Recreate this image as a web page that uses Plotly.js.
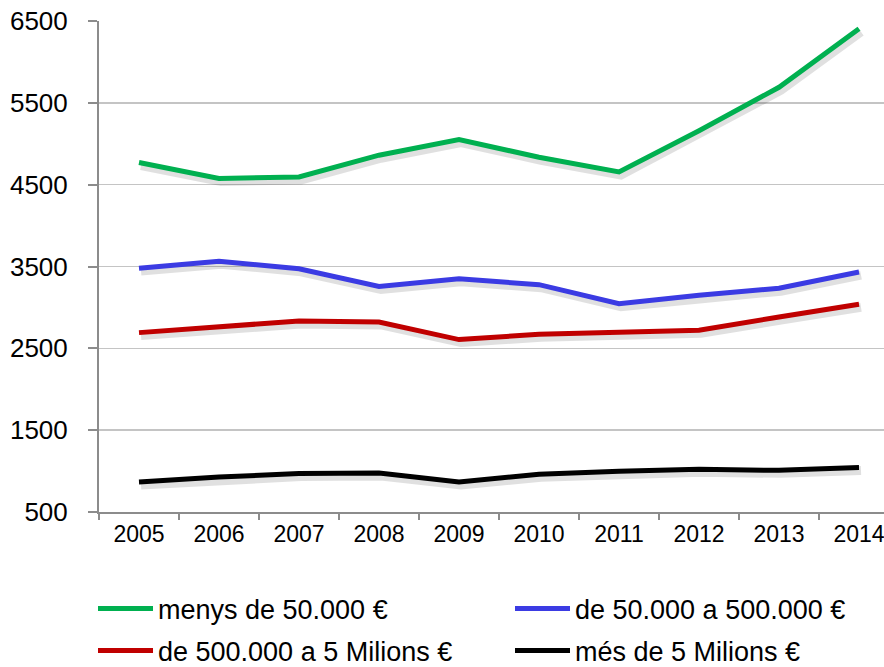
<!DOCTYPE html>
<html>
<head>
<meta charset="utf-8">
<script src="https://cdn.plot.ly/plotly-3.0.1.min.js"></script>
<style>html,body{margin:0;padding:0;background:#fff}#chart{width:884px;height:667px}</style>
</head>
<body>
<div id="chart"></div>
<script>
const years = ['2005','2006','2007','2008','2009','2010','2011','2012','2013','2014'];
const seriesNames = ['menys de 50.000 €', 'de 50.000 a 500.000 €', 'de 500.000 a 5 Milions €', 'més de 5 Milions €'];
const menys50k = [4770, 4575, 4595, 4860, 5050, 4835, 4655, 5160, 5690, 6405];
const de50kA500k = [3480, 3565, 3472, 3255, 3350, 3278, 3045, 3150, 3235, 3432];
const de500kA5M = [2692, 2770, 2834, 2822, 2607, 2672, 2700, 2720, 2883, 3038];
const mes5M = [867, 928, 969, 977, 867, 961, 997, 1021, 1009, 1043];
const yTicks = [500, 1500, 2500, 3500, 4500, 5500, 6500];

const seriesValues = [menys50k, de50kA500k, de500kA5M, mes5M];
const colors = ['#00B050', '#3B3BE3', '#C00000', '#000000'];
const legendIds = ['legend', 'legend2', 'legend3', 'legend4'];

const traces = [];
// soft drop shadows (same data, drawn on a slightly offset hidden axis pair)
seriesValues.forEach((vals) => {
  traces.push({
    x: years, y: vals, xaxis: 'x', yaxis: 'y', type: 'scatter', mode: 'lines',
    line: {color: 'rgba(0,0,0,0.12)', width: 9}, showlegend: false, hoverinfo: 'skip'
  });
});
seriesValues.forEach((vals, i) => {
  traces.push({
    x: years, y: vals, xaxis: 'x2', yaxis: 'y2', type: 'scatter', mode: 'lines',
    name: seriesNames[i], legend: legendIds[i],
    line: {color: colors[i], width: 5}
  });
});

const pxPerCat = 80, pxPerUnit = 491 / 6000;
const dx = 2 / pxPerCat, dy = 3 / pxPerUnit;
const xr = [-0.5, 9.3125];
const yr = [500, 6500];
const font = 'Liberation Sans, Arial, sans-serif';

function legendAt(px, py) {
  return {
    orientation: 'h', xref: 'container', yref: 'container',
    x: px / 884, xanchor: 'left', y: 1 - py / 667, yanchor: 'middle',
    itemwidth: 55,
    font: {size: 27, family: font, color: '#000'}, bgcolor: 'rgba(0,0,0,0)',
    borderwidth: 0
  };
}

const layout = {
  width: 884, height: 667,
  margin: {l: 99, r: 0, t: 21, b: 155},
  paper_bgcolor: '#ffffff', plot_bgcolor: '#ffffff',
  font: {family: font, color: '#000'},
  xaxis: {type: 'category', range: [xr[0] - dx, xr[1] - dx], visible: false, fixedrange: true},
  yaxis: {range: [yr[0] + dy, yr[1] + dy], visible: false, fixedrange: true},
  xaxis2: {
    type: 'category', overlaying: 'x', range: xr, anchor: 'y2',
    showgrid: false, zeroline: false,
    showline: true, linecolor: '#8C8C8C', linewidth: 2,
    ticks: 'outside', tickson: 'boundaries', ticklen: 6, tickcolor: '#8C8C8C', tickwidth: 2,
    tickfont: {size: 23, family: font, color: '#000'}
  },
  yaxis2: {
    overlaying: 'y', range: yr, anchor: 'x2', side: 'left',
    tickvals: yTicks, ticktext: yTicks.map(String),
    showgrid: true, gridcolor: '#C4C4C4', gridwidth: 1.5, zeroline: false,
    showline: true, linecolor: '#8C8C8C', linewidth: 2,
    ticks: 'outside', ticklen: 9, tickcolor: '#8C8C8C', tickwidth: 2,
    ticklabelstandoff: 15,
    tickfont: {size: 26, family: font, color: '#000'}
  },
  legend: legendAt(93, 609),
  legend2: legendAt(510, 609),
  legend3: legendAt(93, 651),
  legend4: legendAt(510, 651)
};

Plotly.newPlot('chart', traces, layout, {displayModeBar: false, staticPlot: true});
</script>
</body>
</html>
